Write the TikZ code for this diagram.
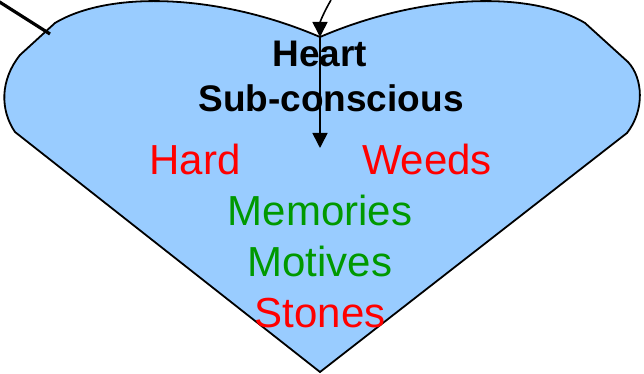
\documentclass[tikz,border=0pt]{standalone}
\usepackage{fontspec}
\setmainfont{Liberation Sans}
\usetikzlibrary{arrows.meta}
\definecolor{heartblue}{RGB}{153,204,255}
\definecolor{wordred}{RGB}{255,0,0}
\definecolor{wordgreen}{RGB}{0,153,0}

\begin{document}
\begin{tikzpicture}[x=1pt,y=-1pt,every node/.style={inner sep=0pt,anchor=base},
  title/.style={font=\fontsize{37}{40}\selectfont\bfseries},
  word/.style={font=\fontsize{42}{46}\selectfont},
  arr/.style={line width=1.6pt,-{Triangle[length=15pt,width=15pt]}}]
\useasboundingbox (0,0) rectangle (644,374);
% heart outline
\filldraw[fill=heartblue,draw=black,line width=1.8pt]
  (320,372) -- (15,132) .. controls (0,110) and (0,80) .. (20,55) -- (55,23)
  .. controls (110,-10) and (220,-6) .. (320,37)
  .. controls (420,-6) and (530,-10) .. (585,23) -- (628,62)
  .. controls (643,78) and (645,110) .. (627,133) -- cycle;
% lines coming in
\coordinate (cleft) at (320,37);
\coordinate (top) at (331,0);
\coordinate (corner) at (-2,1);
\coordinate (edge) at (50,34);
\coordinate (down) at (320,148);
\draw[line width=3.2pt] (corner) -- (edge);
\draw[arr] (top) .. controls (324,12) and (320,22) .. (cleft);
\draw[arr] (cleft) -- (down);
% words
\node[title] (heart) at (320,67) {Heart};
\node[title] (subc) at (331,112) {Sub-conscious};
\node[word,text=wordred] (hard) at (195,174) {Hard};
\node[word,text=wordred] (weeds) at (427,174) {Weeds};
\node[word,text=wordgreen] (memories) at (320,225) {Memories};
\node[word,text=wordgreen] (motives) at (320,276) {Motives};
\node[word,text=wordred] (stones) at (320,327) {Stones};
\end{tikzpicture}
\end{document}
